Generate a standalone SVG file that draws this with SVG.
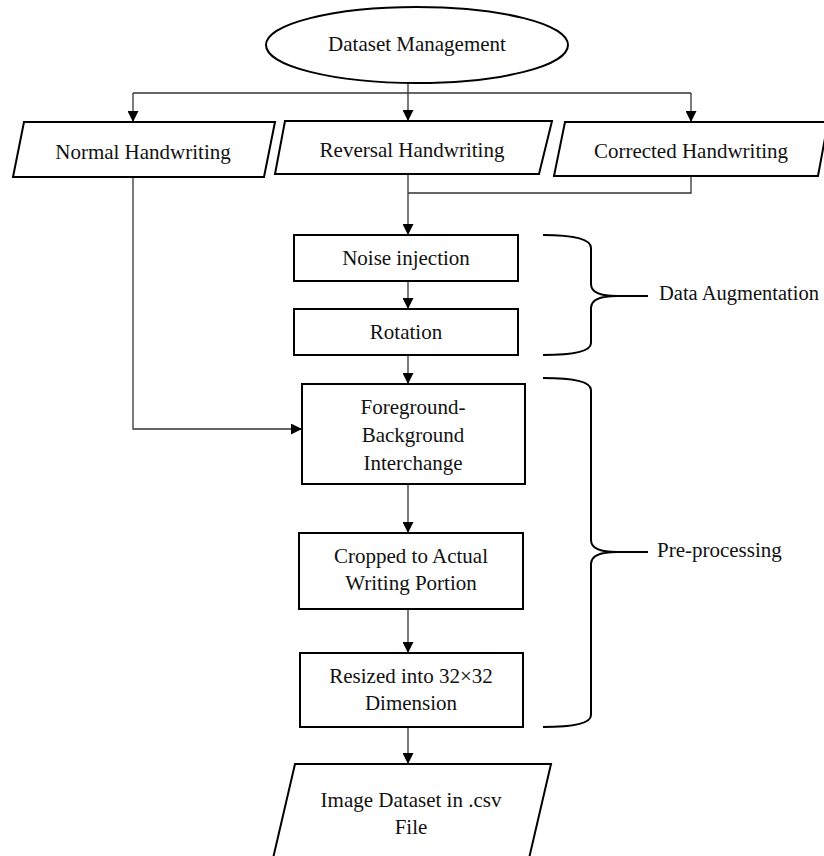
<svg xmlns="http://www.w3.org/2000/svg" width="824" height="856" viewBox="0 0 824 856">
<style>
.shape{fill:#fff;stroke:#000;stroke-width:2}
.conn{fill:none;stroke:#333;stroke-width:1.3}
.brace{fill:none;stroke:#000;stroke-width:2}
text{font-family:"Liberation Serif","Times New Roman",serif;font-size:21px;fill:#111;text-anchor:middle}
.lbl{text-anchor:start}
</style>
<defs>
<marker id="arr" markerUnits="userSpaceOnUse" markerWidth="11" markerHeight="11" refX="11" refY="5.5" orient="auto">
<path d="M0,0 L11,5.5 L0,11 z" fill="#000"/>
</marker>
</defs>
<rect width="824" height="856" fill="#fff"/>
<g id="connectors">
<line class="conn" x1="408" y1="83" x2="408" y2="121" marker-end="url(#arr)"/>
<line class="conn" x1="133" y1="93" x2="691" y2="93"/>
<line class="conn" x1="133" y1="93" x2="133" y2="122" marker-end="url(#arr)"/>
<line class="conn" x1="691" y1="93" x2="691" y2="122" marker-end="url(#arr)"/>
<polyline class="conn" points="133,177 133,429 302,429" marker-end="url(#arr)"/>
<line class="conn" x1="408" y1="174" x2="408" y2="235" marker-end="url(#arr)"/>
<polyline class="conn" points="691,176 691,193 408,193"/>
<line class="conn" x1="408" y1="281" x2="408" y2="309" marker-end="url(#arr)"/>
<line class="conn" x1="408" y1="355" x2="408" y2="384" marker-end="url(#arr)"/>
<line class="conn" x1="408" y1="484" x2="408" y2="533" marker-end="url(#arr)"/>
<line class="conn" x1="408" y1="609" x2="408" y2="653" marker-end="url(#arr)"/>
<line class="conn" x1="408" y1="727" x2="408" y2="764" marker-end="url(#arr)"/>
</g>
<g id="dataset-management">
<ellipse class="shape" cx="417" cy="45" rx="151" ry="38"/>
<text x="417" y="51">Dataset Management</text>
</g>
<g id="normal-handwriting">
<polygon class="shape" points="24,122 275,122 264,177 13,177"/>
<text x="143" y="159">Normal Handwriting</text>
</g>
<g id="reversal-handwriting">
<polygon class="shape" points="285,121 552,121 539,174 275,174"/>
<text x="412" y="157">Reversal Handwriting</text>
</g>
<g id="corrected-handwriting">
<polygon class="shape" points="565,122 828,122 818,176 554,176"/>
<text x="691" y="158">Corrected Handwriting</text>
</g>
<g id="noise-injection">
<rect class="shape" x="294" y="235" width="224" height="46"/>
<text x="406" y="265">Noise injection</text>
</g>
<g id="rotation">
<rect class="shape" x="294" y="309" width="224" height="46"/>
<text x="406" y="339">Rotation</text>
</g>
<g id="fg-bg-interchange">
<rect class="shape" x="302" y="384" width="223" height="100"/>
<text x="413" y="414">Foreground-</text>
<text x="413" y="442">Background</text>
<text x="413" y="470">Interchange</text>
</g>
<g id="cropped">
<rect class="shape" x="299" y="533" width="224" height="76"/>
<text x="411" y="563">Cropped to Actual</text>
<text x="411" y="590">Writing Portion</text>
</g>
<g id="resized">
<rect class="shape" x="300" y="653" width="223" height="74"/>
<text x="411" y="683">Resized into 32×32</text>
<text x="411" y="710">Dimension</text>
</g>
<g id="image-dataset">
<polygon class="shape" points="295,764 551,764 524,880 268,880"/>
<text x="411" y="807">Image Dataset in .csv</text>
<text x="411" y="834">File</text>
</g>
<g id="data-augmentation">
<path class="brace" d="M543,235 Q591,235 591,248 L591,284 Q591,296 617,296 Q591,296 591,308 L591,343 Q591,355 543,355"/>
<line class="brace" x1="617" y1="296" x2="648" y2="296"/>
<text class="lbl" x="659" y="300" style="font-size:20.5px">Data Augmentation</text>
</g>
<g id="pre-processing">
<path class="brace" d="M543,378 Q591,378 591,390 L591,540 Q591,552 617,552 Q591,552 591,564 L591,715 Q591,727 543,727"/>
<line class="brace" x1="617" y1="552" x2="648" y2="552"/>
<text class="lbl" x="657" y="557">Pre-processing</text>
</g>
</svg>
